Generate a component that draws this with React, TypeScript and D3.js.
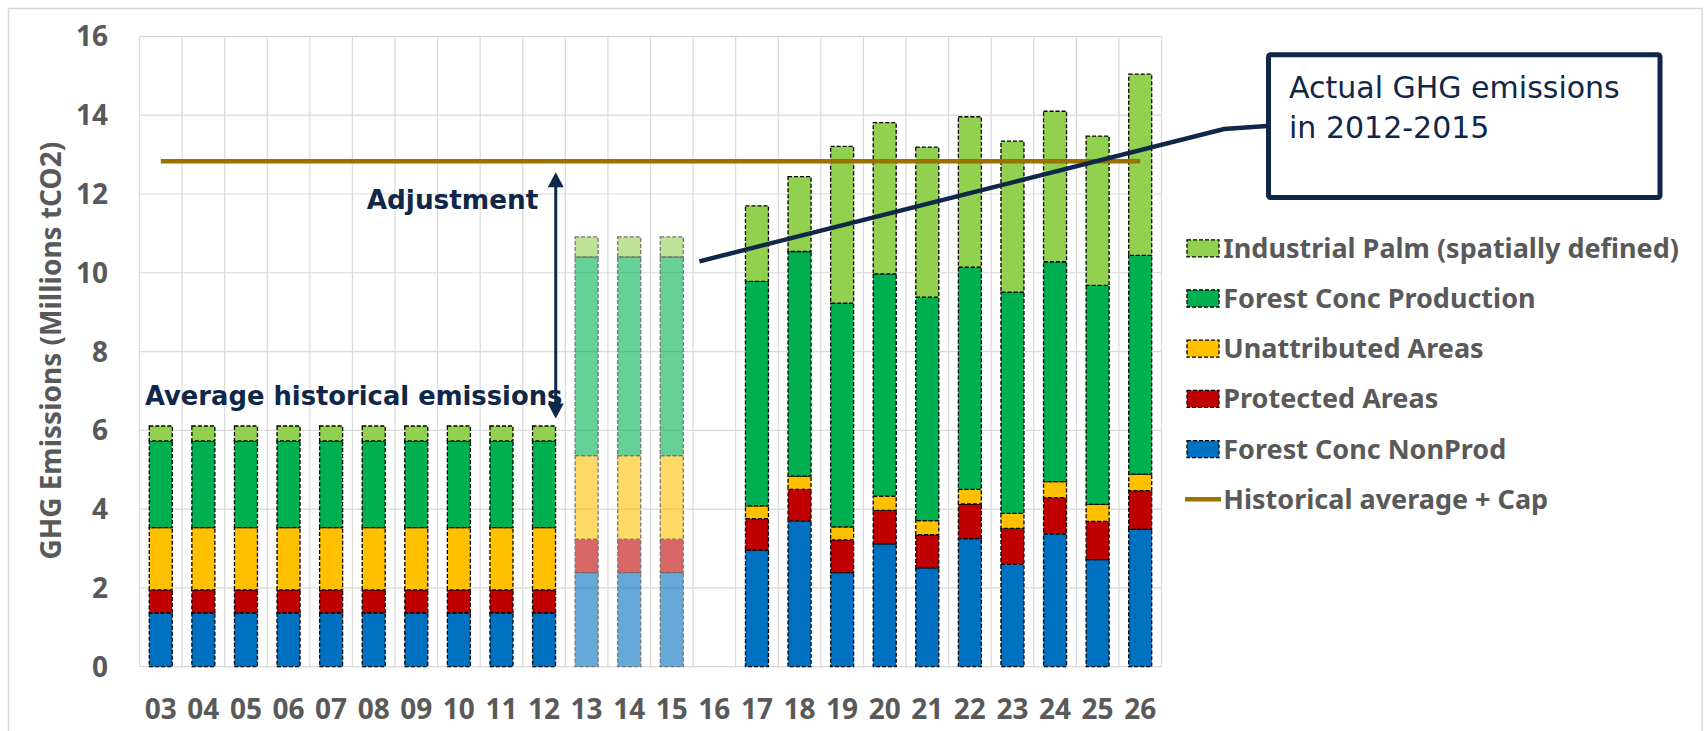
import React from "react";
import * as d3 from "d3";

const categories = ["03","04","05","06","07","08","09","10","11","12","13","14","15","16","17","18","19","20","21","22","23","24","25","26"];
const forestConcNonProd = [1.37,1.37,1.37,1.37,1.37,1.37,1.37,1.37,1.37,1.37,2.39,2.39,2.39,0,2.96,3.70,2.39,3.12,2.51,3.25,2.60,3.37,2.72,3.49];
const protectedAreas = [0.58,0.58,0.58,0.58,0.58,0.58,0.58,0.58,0.58,0.58,0.84,0.84,0.84,0,0.80,0.80,0.83,0.85,0.84,0.88,0.91,0.92,0.97,0.98];
const unattributedAreas = [1.58,1.58,1.58,1.58,1.58,1.58,1.58,1.58,1.58,1.58,2.13,2.13,2.13,0,0.32,0.34,0.33,0.36,0.36,0.37,0.38,0.41,0.43,0.42];
const forestConcProduction = [2.20,2.20,2.20,2.20,2.20,2.20,2.20,2.20,2.20,2.20,5.04,5.04,5.04,0,5.70,5.70,5.68,5.64,5.67,5.64,5.62,5.58,5.56,5.55];
const industrialPalm = [0.38,0.38,0.38,0.38,0.38,0.38,0.38,0.38,0.38,0.38,0.51,0.51,0.51,0,1.92,1.90,3.98,3.84,3.81,3.82,3.83,3.82,3.79,4.60];
const fadedCategories = ["13","14","15"];
const capValue = 12.83;
const yTicks = [0,2,4,6,8,10,12,14,16];

const seriesKeys = ["nonprod","protected","unattributed","production","palm"];
const seriesColors: Record<string,string> = {
  nonprod: "#0070C0",
  protected: "#C00000",
  unattributed: "#FFC000",
  production: "#00B050",
  palm: "#92D050",
};
const legendItems = [
  { key: "palm", label: "Industrial Palm (spatially defined)" },
  { key: "production", label: "Forest Conc Production" },
  { key: "unattributed", label: "Unattributed Areas" },
  { key: "protected", label: "Protected Areas" },
  { key: "nonprod", label: "Forest Conc NonProd" },
  { key: "cap", label: "Historical average + Cap" },
];

const W = 1708, H = 731;
const NAVY = "#0f2748";
const GRAY = "#595959";
const GRID = "#d9d9d9";
const CAP = "#9a7200";
const GRAYFONT = "'Noto Sans', sans-serif";
const NAVYFONT = "'DejaVu Sans', sans-serif";

export default function App() {
  const table = categories.map((c, i) => ({
    cat: c,
    nonprod: forestConcNonProd[i],
    protected: protectedAreas[i],
    unattributed: unattributedAreas[i],
    production: forestConcProduction[i],
    palm: industrialPalm[i],
  }));
  const stacked = d3.stack<any>().keys(seriesKeys)(table);

  const x = d3.scaleBand<string>().domain(categories).range([139.5, 1161.5]).paddingInner(0.46).paddingOuter(0.23);
  const step = x.step();
  const y = d3.scaleLinear().domain([0, 16]).range([666.7, 36.4]);

  const left = 139.5, right = 1161.5;
  const boundaries = d3.range(categories.length + 1).map((i) => left + i * step);

  const arrowX = x("12")! + x.bandwidth() / 2 + 11.7;
  const arrowTop = y(12.55);
  const arrowBot = y(6.3);

  const startX = x("16")! + x.bandwidth() / 2 - 15;
  const startY = y(10.29);
  const kneeX = 1224, kneeY = 129;
  const endX = 1267, endY = 126;

  const legX = 1187, legY0 = 248.3, legStep = 50.2;

  return (
    <div style={{ position: "absolute", left: 0, top: 0 }}>
      <svg width={W} height={H} style={{ display: "block" }}>
        <rect x={0} y={0} width={W} height={H} fill="#fff" />
        <rect x={8.5} y={8.5} width={1693.5} height={740} fill="none" stroke={GRID} strokeWidth={1.5} />
        {/* gridlines */}
        {yTicks.map((t) => (
          <line key={"h" + t} x1={left} x2={right} y1={y(t)} y2={y(t)} stroke={GRID} strokeWidth={1.2} />
        ))}
        {boundaries.map((bx, i) => (
          <line key={"v" + i} x1={bx} x2={bx} y1={y(16)} y2={y(0)} stroke={GRID} strokeWidth={1.2} />
        ))}
        {/* bars */}
        {stacked.map((s) => (
          <g key={s.key}>
            {s.map((d: any, i: number) => {
              const v = d[1] - d[0];
              if (v <= 0) return null;
              const faded = fadedCategories.includes(d.data.cat);
              return (
                <rect
                  key={i}
                  x={x(d.data.cat)}
                  y={y(d[1])}
                  width={x.bandwidth()}
                  height={y(d[0]) - y(d[1])}
                  fill={seriesColors[s.key]}
                  fillOpacity={faded ? 0.6 : 1}
                  stroke={faded ? "#777" : "#000"}
                  strokeWidth={1.3}
                  strokeDasharray="4 2"
                />
              );
            })}
          </g>
        ))}
        {/* cap line */}
        <line
          x1={x(categories[0])! + x.bandwidth() / 2}
          x2={x(categories[categories.length - 1])! + x.bandwidth() / 2}
          y1={y(capValue)}
          y2={y(capValue)}
          stroke={CAP}
          strokeWidth={4.5}
        />
        {/* y ticks */}
        {yTicks.map((t) => (
          <text key={"yt" + t} x={108} y={y(t)} dy="0.36em" textAnchor="end" fontFamily={GRAYFONT} fontWeight={700} fontSize={28} fill={GRAY}>
            {t}
          </text>
        ))}
        {/* x ticks */}
        {categories.map((c) => (
          <text key={"xt" + c} x={x(c)! + x.bandwidth() / 2} y={719.3} textAnchor="middle" fontFamily={GRAYFONT} fontWeight={700} fontSize={28} fill={GRAY}>
            {c}
          </text>
        ))}
        {/* y title */}
        <text transform={`translate(61,350.7) rotate(-90)`} textAnchor="middle" fontFamily={GRAYFONT} fontWeight={700} fontSize={28} fill={GRAY}>
          GHG Emissions (Millions tCO2)
        </text>
        {/* annotations */}
        <text x={366.7} y={209.3} fontFamily={NAVYFONT} fontWeight={700} fontSize={26.3} fill={NAVY}>Adjustment</text>
        <text x={145} y={405} fontFamily={NAVYFONT} fontWeight={700} fontSize={25.8} fill={NAVY}>Average historical emissions</text>
        <line x1={arrowX} x2={arrowX} y1={arrowTop + 12} y2={arrowBot - 12} stroke={NAVY} strokeWidth={3} />
        <path d={`M${arrowX},${arrowTop} L${arrowX - 8},${arrowTop + 15} L${arrowX + 8},${arrowTop + 15} Z`} fill={NAVY} />
        <path d={`M${arrowX},${arrowBot} L${arrowX - 8},${arrowBot - 15} L${arrowX + 8},${arrowBot - 15} Z`} fill={NAVY} />
        {/* pointer line */}
        <polyline points={`${startX},${startY} ${kneeX},${kneeY} ${endX},${endY}`} fill="none" stroke={NAVY} strokeWidth={4.5} />
        {/* callout box */}
        <rect x={1268.5} y={54.8} width={391.5} height={142.7} rx={2} fill="#fff" stroke={NAVY} strokeWidth={5} />
        <text x={1289} y={97.7} fontFamily={NAVYFONT} fontSize={30} fill={NAVY}>Actual GHG emissions</text>
        <text x={1289} y={137.7} fontFamily={NAVYFONT} fontSize={30} fill={NAVY}>in 2012-2015</text>
        {/* legend */}
        {legendItems.map((it, i) => {
          const cy = legY0 + i * legStep;
          return (
            <g key={it.key}>
              {it.key === "cap" ? (
                <line x1={legX - 2} x2={legX + 34} y1={cy} y2={cy} stroke={CAP} strokeWidth={4.5} />
              ) : (
                <rect x={legX} y={cy - 8.5} width={32} height={17} fill={seriesColors[it.key]} stroke="#000" strokeWidth={1.3} strokeDasharray="4 2" />
              )}
              <text x={1223.3} y={cy + 9.5} fontFamily={GRAYFONT} fontWeight={700} fontSize={27} fill={GRAY}>
                {it.label}
              </text>
            </g>
          );
        })}
      </svg>
    </div>
  );
}
